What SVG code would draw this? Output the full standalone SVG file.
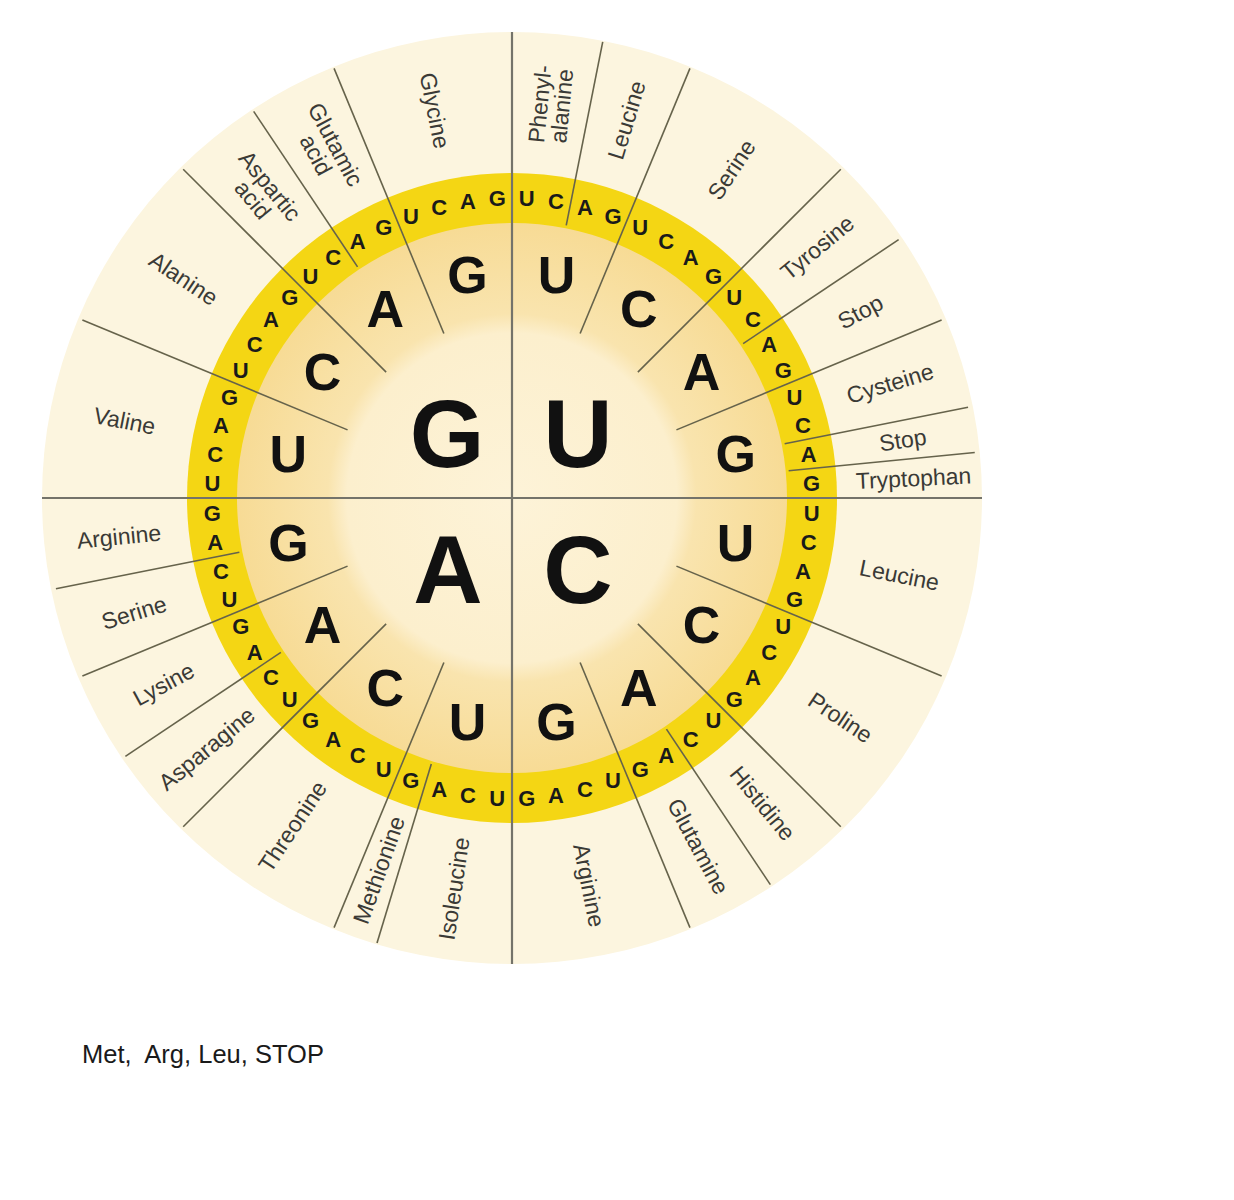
<svg xmlns="http://www.w3.org/2000/svg" width="1234" height="1200" viewBox="0 0 1234 1200">
<defs>
<radialGradient id="midGrad" cx="512" cy="498" r="275" gradientUnits="userSpaceOnUse">
<stop offset="0" stop-color="#FDF3D8"/>
<stop offset="0.6" stop-color="#FCEFCD"/>
<stop offset="0.67" stop-color="#F9E4AE"/>
<stop offset="1" stop-color="#F7DB95"/>
</radialGradient>
<style>
.q{stroke:#74736a;stroke-width:2.2;fill:none}
.l{stroke:#66634b;stroke-width:1.6;fill:none}
.aa{font-family:"Liberation Sans",Arial,sans-serif;font-size:23px;fill:#3a3a36;text-anchor:middle}
.n3{font-family:"Liberation Sans",Arial,sans-serif;font-weight:bold;font-size:22px;fill:#1a1a1a;text-anchor:middle}
.n2{font-family:"Liberation Sans",Arial,sans-serif;font-weight:bold;font-size:52px;fill:#111;text-anchor:middle}
.n1{font-family:"Liberation Sans",Arial,sans-serif;font-weight:bold;font-size:96px;fill:#111;text-anchor:middle}
.cap{font-family:"Liberation Sans",Arial,sans-serif;font-size:25.5px;fill:#1a1a1a}
</style>
</defs>
<rect width="1234" height="1200" fill="#ffffff"/>
<g id="wheel">
<ellipse cx="512" cy="498" rx="470" ry="466" fill="#FCF5DF"/>
<circle cx="512" cy="498" r="325" fill="#F4D614"/>
<circle cx="512" cy="498" r="275" fill="url(#midGrad)"/>
</g>
<g id="connectors">
<line class="q" x1="512" y1="32" x2="512" y2="964"/>
<line class="q" x1="42" y1="498" x2="982" y2="498"/>
<g class="l">
<line x1="512" y1="320" x2="512" y2="33" transform="rotate(22.5 512 498)"/>
<line x1="512" y1="320" x2="512" y2="33" transform="rotate(45 512 498)"/>
<line x1="512" y1="320" x2="512" y2="33" transform="rotate(67.5 512 498)"/>
<line x1="512" y1="320" x2="512" y2="33" transform="rotate(112.5 512 498)"/>
<line x1="512" y1="320" x2="512" y2="33" transform="rotate(135 512 498)"/>
<line x1="512" y1="320" x2="512" y2="33" transform="rotate(157.5 512 498)"/>
<line x1="512" y1="320" x2="512" y2="33" transform="rotate(202.5 512 498)"/>
<line x1="512" y1="320" x2="512" y2="33" transform="rotate(225 512 498)"/>
<line x1="512" y1="320" x2="512" y2="33" transform="rotate(247.5 512 498)"/>
<line x1="512" y1="320" x2="512" y2="33" transform="rotate(292.5 512 498)"/>
<line x1="512" y1="320" x2="512" y2="33" transform="rotate(315 512 498)"/>
<line x1="512" y1="320" x2="512" y2="33" transform="rotate(337.5 512 498)"/>
<line x1="512" y1="220" x2="512" y2="33" transform="rotate(11.25 512 498)"/>
<line x1="512" y1="220" x2="512" y2="33" transform="rotate(56.25 512 498)"/>
<line x1="512" y1="220" x2="512" y2="33" transform="rotate(78.75 512 498)"/>
<line x1="512" y1="220" x2="512" y2="33" transform="rotate(84.375 512 498)"/>
<line x1="512" y1="220" x2="512" y2="33" transform="rotate(146.25 512 498)"/>
<line x1="512" y1="220" x2="512" y2="33" transform="rotate(196.875 512 498)"/>
<line x1="512" y1="220" x2="512" y2="33" transform="rotate(236.25 512 498)"/>
<line x1="512" y1="220" x2="512" y2="33" transform="rotate(258.75 512 498)"/>
<line x1="512" y1="220" x2="512" y2="33" transform="rotate(326.25 512 498)"/>
</g>
</g>
<g id="first-letters">
<text class="n1" x="447" y="467">G</text>
<text class="n1" x="578" y="467">U</text>
<text class="n1" x="448" y="603">A</text>
<text class="n1" x="578" y="603">C</text>
</g>
<g id="second-letters">
<g transform="rotate(11.25 512 498)"><text class="n2" x="512" y="288.5" transform="rotate(-11.25 512 270)">U</text></g>
<g transform="rotate(33.75 512 498)"><text class="n2" x="512" y="288.5" transform="rotate(-33.75 512 270)">C</text></g>
<g transform="rotate(56.25 512 498)"><text class="n2" x="512" y="288.5" transform="rotate(-56.25 512 270)">A</text></g>
<g transform="rotate(78.75 512 498)"><text class="n2" x="512" y="288.5" transform="rotate(-78.75 512 270)">G</text></g>
<g transform="rotate(101.25 512 498)"><text class="n2" x="512" y="288.5" transform="rotate(-101.25 512 270)">U</text></g>
<g transform="rotate(123.75 512 498)"><text class="n2" x="512" y="288.5" transform="rotate(-123.75 512 270)">C</text></g>
<g transform="rotate(146.25 512 498)"><text class="n2" x="512" y="288.5" transform="rotate(-146.25 512 270)">A</text></g>
<g transform="rotate(168.75 512 498)"><text class="n2" x="512" y="288.5" transform="rotate(-168.75 512 270)">G</text></g>
<g transform="rotate(191.25 512 498)"><text class="n2" x="512" y="288.5" transform="rotate(-191.25 512 270)">U</text></g>
<g transform="rotate(213.75 512 498)"><text class="n2" x="512" y="288.5" transform="rotate(-213.75 512 270)">C</text></g>
<g transform="rotate(236.25 512 498)"><text class="n2" x="512" y="288.5" transform="rotate(-236.25 512 270)">A</text></g>
<g transform="rotate(258.75 512 498)"><text class="n2" x="512" y="288.5" transform="rotate(-258.75 512 270)">G</text></g>
<g transform="rotate(281.25 512 498)"><text class="n2" x="512" y="288.5" transform="rotate(-281.25 512 270)">U</text></g>
<g transform="rotate(303.75 512 498)"><text class="n2" x="512" y="288.5" transform="rotate(-303.75 512 270)">C</text></g>
<g transform="rotate(326.25 512 498)"><text class="n2" x="512" y="288.5" transform="rotate(-326.25 512 270)">A</text></g>
<g transform="rotate(348.75 512 498)"><text class="n2" x="512" y="288.5" transform="rotate(-348.75 512 270)">G</text></g>
</g>
<g id="third-letters">
<g transform="rotate(2.8125 512 498)"><text class="n3" x="512" y="206" transform="rotate(-2.8125 512 198)">U</text></g>
<g transform="rotate(8.4375 512 498)"><text class="n3" x="512" y="206" transform="rotate(-8.4375 512 198)">C</text></g>
<g transform="rotate(14.0625 512 498)"><text class="n3" x="512" y="206" transform="rotate(-14.0625 512 198)">A</text></g>
<g transform="rotate(19.6875 512 498)"><text class="n3" x="512" y="206" transform="rotate(-19.6875 512 198)">G</text></g>
<g transform="rotate(25.3125 512 498)"><text class="n3" x="512" y="206" transform="rotate(-25.3125 512 198)">U</text></g>
<g transform="rotate(30.9375 512 498)"><text class="n3" x="512" y="206" transform="rotate(-30.9375 512 198)">C</text></g>
<g transform="rotate(36.5625 512 498)"><text class="n3" x="512" y="206" transform="rotate(-36.5625 512 198)">A</text></g>
<g transform="rotate(42.1875 512 498)"><text class="n3" x="512" y="206" transform="rotate(-42.1875 512 198)">G</text></g>
<g transform="rotate(47.8125 512 498)"><text class="n3" x="512" y="206" transform="rotate(-47.8125 512 198)">U</text></g>
<g transform="rotate(53.4375 512 498)"><text class="n3" x="512" y="206" transform="rotate(-53.4375 512 198)">C</text></g>
<g transform="rotate(59.0625 512 498)"><text class="n3" x="512" y="206" transform="rotate(-59.0625 512 198)">A</text></g>
<g transform="rotate(64.6875 512 498)"><text class="n3" x="512" y="206" transform="rotate(-64.6875 512 198)">G</text></g>
<g transform="rotate(70.3125 512 498)"><text class="n3" x="512" y="206" transform="rotate(-70.3125 512 198)">U</text></g>
<g transform="rotate(75.9375 512 498)"><text class="n3" x="512" y="206" transform="rotate(-75.9375 512 198)">C</text></g>
<g transform="rotate(81.5625 512 498)"><text class="n3" x="512" y="206" transform="rotate(-81.5625 512 198)">A</text></g>
<g transform="rotate(87.1875 512 498)"><text class="n3" x="512" y="206" transform="rotate(-87.1875 512 198)">G</text></g>
<g transform="rotate(92.8125 512 498)"><text class="n3" x="512" y="206" transform="rotate(-92.8125 512 198)">U</text></g>
<g transform="rotate(98.4375 512 498)"><text class="n3" x="512" y="206" transform="rotate(-98.4375 512 198)">C</text></g>
<g transform="rotate(104.0625 512 498)"><text class="n3" x="512" y="206" transform="rotate(-104.0625 512 198)">A</text></g>
<g transform="rotate(109.6875 512 498)"><text class="n3" x="512" y="206" transform="rotate(-109.6875 512 198)">G</text></g>
<g transform="rotate(115.3125 512 498)"><text class="n3" x="512" y="206" transform="rotate(-115.3125 512 198)">U</text></g>
<g transform="rotate(120.9375 512 498)"><text class="n3" x="512" y="206" transform="rotate(-120.9375 512 198)">C</text></g>
<g transform="rotate(126.5625 512 498)"><text class="n3" x="512" y="206" transform="rotate(-126.5625 512 198)">A</text></g>
<g transform="rotate(132.1875 512 498)"><text class="n3" x="512" y="206" transform="rotate(-132.1875 512 198)">G</text></g>
<g transform="rotate(137.8125 512 498)"><text class="n3" x="512" y="206" transform="rotate(-137.8125 512 198)">U</text></g>
<g transform="rotate(143.4375 512 498)"><text class="n3" x="512" y="206" transform="rotate(-143.4375 512 198)">C</text></g>
<g transform="rotate(149.0625 512 498)"><text class="n3" x="512" y="206" transform="rotate(-149.0625 512 198)">A</text></g>
<g transform="rotate(154.6875 512 498)"><text class="n3" x="512" y="206" transform="rotate(-154.6875 512 198)">G</text></g>
<g transform="rotate(160.3125 512 498)"><text class="n3" x="512" y="206" transform="rotate(-160.3125 512 198)">U</text></g>
<g transform="rotate(165.9375 512 498)"><text class="n3" x="512" y="206" transform="rotate(-165.9375 512 198)">C</text></g>
<g transform="rotate(171.5625 512 498)"><text class="n3" x="512" y="206" transform="rotate(-171.5625 512 198)">A</text></g>
<g transform="rotate(177.1875 512 498)"><text class="n3" x="512" y="206" transform="rotate(-177.1875 512 198)">G</text></g>
<g transform="rotate(182.8125 512 498)"><text class="n3" x="512" y="206" transform="rotate(-182.8125 512 198)">U</text></g>
<g transform="rotate(188.4375 512 498)"><text class="n3" x="512" y="206" transform="rotate(-188.4375 512 198)">C</text></g>
<g transform="rotate(194.0625 512 498)"><text class="n3" x="512" y="206" transform="rotate(-194.0625 512 198)">A</text></g>
<g transform="rotate(199.6875 512 498)"><text class="n3" x="512" y="206" transform="rotate(-199.6875 512 198)">G</text></g>
<g transform="rotate(205.3125 512 498)"><text class="n3" x="512" y="206" transform="rotate(-205.3125 512 198)">U</text></g>
<g transform="rotate(210.9375 512 498)"><text class="n3" x="512" y="206" transform="rotate(-210.9375 512 198)">C</text></g>
<g transform="rotate(216.5625 512 498)"><text class="n3" x="512" y="206" transform="rotate(-216.5625 512 198)">A</text></g>
<g transform="rotate(222.1875 512 498)"><text class="n3" x="512" y="206" transform="rotate(-222.1875 512 198)">G</text></g>
<g transform="rotate(227.8125 512 498)"><text class="n3" x="512" y="206" transform="rotate(-227.8125 512 198)">U</text></g>
<g transform="rotate(233.4375 512 498)"><text class="n3" x="512" y="206" transform="rotate(-233.4375 512 198)">C</text></g>
<g transform="rotate(239.0625 512 498)"><text class="n3" x="512" y="206" transform="rotate(-239.0625 512 198)">A</text></g>
<g transform="rotate(244.6875 512 498)"><text class="n3" x="512" y="206" transform="rotate(-244.6875 512 198)">G</text></g>
<g transform="rotate(250.3125 512 498)"><text class="n3" x="512" y="206" transform="rotate(-250.3125 512 198)">U</text></g>
<g transform="rotate(255.9375 512 498)"><text class="n3" x="512" y="206" transform="rotate(-255.9375 512 198)">C</text></g>
<g transform="rotate(261.5625 512 498)"><text class="n3" x="512" y="206" transform="rotate(-261.5625 512 198)">A</text></g>
<g transform="rotate(267.1875 512 498)"><text class="n3" x="512" y="206" transform="rotate(-267.1875 512 198)">G</text></g>
<g transform="rotate(272.8125 512 498)"><text class="n3" x="512" y="206" transform="rotate(-272.8125 512 198)">U</text></g>
<g transform="rotate(278.4375 512 498)"><text class="n3" x="512" y="206" transform="rotate(-278.4375 512 198)">C</text></g>
<g transform="rotate(284.0625 512 498)"><text class="n3" x="512" y="206" transform="rotate(-284.0625 512 198)">A</text></g>
<g transform="rotate(289.6875 512 498)"><text class="n3" x="512" y="206" transform="rotate(-289.6875 512 198)">G</text></g>
<g transform="rotate(295.3125 512 498)"><text class="n3" x="512" y="206" transform="rotate(-295.3125 512 198)">U</text></g>
<g transform="rotate(300.9375 512 498)"><text class="n3" x="512" y="206" transform="rotate(-300.9375 512 198)">C</text></g>
<g transform="rotate(306.5625 512 498)"><text class="n3" x="512" y="206" transform="rotate(-306.5625 512 198)">A</text></g>
<g transform="rotate(312.1875 512 498)"><text class="n3" x="512" y="206" transform="rotate(-312.1875 512 198)">G</text></g>
<g transform="rotate(317.8125 512 498)"><text class="n3" x="512" y="206" transform="rotate(-317.8125 512 198)">U</text></g>
<g transform="rotate(323.4375 512 498)"><text class="n3" x="512" y="206" transform="rotate(-323.4375 512 198)">C</text></g>
<g transform="rotate(329.0625 512 498)"><text class="n3" x="512" y="206" transform="rotate(-329.0625 512 198)">A</text></g>
<g transform="rotate(334.6875 512 498)"><text class="n3" x="512" y="206" transform="rotate(-334.6875 512 198)">G</text></g>
<g transform="rotate(340.3125 512 498)"><text class="n3" x="512" y="206" transform="rotate(-340.3125 512 198)">U</text></g>
<g transform="rotate(345.9375 512 498)"><text class="n3" x="512" y="206" transform="rotate(-345.9375 512 198)">C</text></g>
<g transform="rotate(351.5625 512 498)"><text class="n3" x="512" y="206" transform="rotate(-351.5625 512 198)">A</text></g>
<g transform="rotate(357.1875 512 498)"><text class="n3" x="512" y="206" transform="rotate(-357.1875 512 198)">G</text></g>
</g>
<g id="amino-acids">
<g id="phe" transform="rotate(5.625 512 498)"><text class="aa" transform="translate(512 103) rotate(-90)"><tspan x="0" y="-3">Phenyl-</tspan><tspan x="0" y="19">alanine</tspan></text></g>
<g id="leu1" transform="rotate(16.875 512 498)"><text class="aa" transform="translate(512 103) rotate(-90)" y="8">Leucine</text></g>
<g id="ser1" transform="rotate(33.75 512 498)"><text class="aa" transform="translate(512 103) rotate(-90)" y="8">Serine</text></g>
<g id="tyr" transform="rotate(50.625 512 498)"><text class="aa" transform="translate(512 103) rotate(-90)" y="8">Tyrosine</text></g>
<g id="stop1" transform="rotate(61.875 512 498)"><text class="aa" transform="translate(512 103) rotate(-90)" y="8">Stop</text></g>
<g id="cys" transform="rotate(73.125 512 498)"><text class="aa" transform="translate(512 103) rotate(-90)" y="8">Cysteine</text></g>
<g id="stop2" transform="rotate(81.5625 512 498)"><text class="aa" transform="translate(512 103) rotate(-90)" y="8">Stop</text></g>
<g id="trp" transform="rotate(87.1875 512 498)"><text class="aa" transform="translate(512 96) rotate(-90)" y="8">Tryptophan</text></g>
<g id="leu2" transform="rotate(101.25 512 498)"><text class="aa" transform="translate(512 103) rotate(-90)" y="8">Leucine</text></g>
<g id="pro" transform="rotate(123.75 512 498)"><text class="aa" transform="translate(512 103) rotate(-90)" y="8">Proline</text></g>
<g id="his" transform="rotate(140.625 512 498)"><text class="aa" transform="translate(512 103) rotate(-90)" y="8">Histidine</text></g>
<g id="gln" transform="rotate(151.875 512 498)"><text class="aa" transform="translate(512 103) rotate(-90)" y="8">Glutamine</text></g>
<g id="arg1" transform="rotate(168.75 512 498)"><text class="aa" transform="translate(512 103) rotate(-90)" y="8">Arginine</text></g>
<g id="ile" transform="rotate(188.4375 512 498)"><text class="aa" transform="translate(512 103) rotate(90)" y="8">Isoleucine</text></g>
<g id="met" transform="rotate(199.6875 512 498)"><text class="aa" transform="translate(512 103) rotate(90)" y="8">Methionine</text></g>
<g id="thr" transform="rotate(213.75 512 498)"><text class="aa" transform="translate(512 103) rotate(90)" y="8">Threonine</text></g>
<g id="asn" transform="rotate(230.625 512 498)"><text class="aa" transform="translate(512 103) rotate(90)" y="8">Asparagine</text></g>
<g id="lys" transform="rotate(241.875 512 498)"><text class="aa" transform="translate(512 103) rotate(90)" y="8">Lysine</text></g>
<g id="ser2" transform="rotate(253.125 512 498)"><text class="aa" transform="translate(512 103) rotate(90)" y="8">Serine</text></g>
<g id="arg2" transform="rotate(264.375 512 498)"><text class="aa" transform="translate(512 103) rotate(90)" y="8">Arginine</text></g>
<g id="val" transform="rotate(281.25 512 498)"><text class="aa" transform="translate(512 103) rotate(90)" y="8">Valine</text></g>
<g id="ala" transform="rotate(303.75 512 498)"><text class="aa" transform="translate(512 103) rotate(90)" y="8">Alanine</text></g>
<g id="asp" transform="rotate(320.625 512 498)"><text class="aa" transform="translate(512 103) rotate(90)"><tspan x="0" y="-3">Aspartic</tspan><tspan x="0" y="19">acid</tspan></text></g>
<g id="glu" transform="rotate(331.875 512 498)"><text class="aa" transform="translate(512 103) rotate(90)"><tspan x="0" y="-3">Glutamic</tspan><tspan x="0" y="19">acid</tspan></text></g>
<g id="gly" transform="rotate(348.75 512 498)"><text class="aa" transform="translate(512 103) rotate(90)" y="8">Glycine</text></g>
</g>
<text id="caption" class="cap" x="82" y="1063">Met,&#160; Arg, Leu, STOP</text>
</svg>
